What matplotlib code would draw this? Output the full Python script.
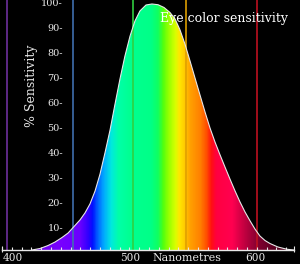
import numpy as np
import matplotlib
matplotlib.use("Agg")
import matplotlib.pyplot as plt
from matplotlib.colors import LinearSegmentedColormap
from matplotlib.patches import Polygon

# ---- data ----
wavelength_nm = [418.5, 425.0, 431.5, 437.1, 442.7, 447.6, 452.4, 457.3, 461.3, 465.3,
                 469.4, 473.4, 477.4, 481.5, 485.5, 489.5, 493.5, 497.6, 501.6, 505.6,
                 510.5, 515.3, 520.2, 525.0, 529.8, 533.9, 537.9, 541.9, 546.0, 550.0,
                 554.0, 558.1, 562.1, 566.1, 570.2, 574.2, 578.2, 582.3, 586.3, 590.3,
                 594.4, 598.4, 602.4, 606.5, 610.5, 616.9, 624.2, 629.8]
sensitivity_pct = [1.2, 1.8, 3.0, 4.4, 6.2, 8.0, 10.6, 13.3, 16.1, 19.7,
                   24.9, 31.7, 40.2, 49.4, 59.8, 69.9, 79.1, 87.1, 93.2, 97.2,
                   99.6, 100.0, 99.7, 98.6, 96.6, 94.0, 89.6, 83.9, 77.1, 70.3,
                   63.5, 56.6, 50.2, 44.6, 39.4, 34.5, 29.7, 24.9, 20.5, 16.5,
                   12.9, 9.6, 6.8, 5.0, 3.8, 2.4, 1.5, 1.2]

spectrum_nm = [417, 441, 457, 464, 467, 471, 476, 482, 488, 498, 514, 520, 524, 528,
               534, 537, 542, 546, 554, 559, 563, 567, 580, 590, 601, 615, 630]
spectrum_colors = ["#6a00e8", "#7800ff", "#6a00ff", "#2a00ff", "#0010ff", "#0060ff", "#00a8ff",
                   "#00e8e0", "#00ffa8", "#00ff90", "#00ff88", "#10ff60", "#50ff10", "#90ff00",
                   "#d8ff00", "#ffe800", "#ffc800", "#ffa000", "#ff8000", "#ff5000", "#ff1010",
                   "#ff0040", "#ff0050", "#c00040", "#800030", "#580020", "#480018"]

marker_nm = [398, 452, 500, 543, 600]
marker_colors = ["#7030a0", "#4070b0", "#30d040", "#e0a000", "#c01020"]

y_ticks = [10, 20, 30, 40, 50, 60, 70, 80, 90, 100]
x_labels = [400, 500, 600]
x_label_pos = [403.2, 497.6, 598.4]
baseline = 1.2
axis_range = [394.4, 629.8]
minor_tick_step = 7.9

# ---- figure ----
fig = plt.figure(figsize=(3.0, 2.64), dpi=100, facecolor="black")
ax = fig.add_axes([0, 0, 1, 1], facecolor="black")
ax.set_xlim(392.74, 634.68)
ax.set_ylim(-4.42, 101.6)
ax.axis("off")

serif = "DejaVu Serif"
tc = "#e8e8e8"

# gradient fill clipped to curve
cmap = LinearSegmentedColormap.from_list(
    "spec", [((w - spectrum_nm[0]) / (spectrum_nm[-1] - spectrum_nm[0]), c)
             for w, c in zip(spectrum_nm, spectrum_colors)])
grad = np.linspace(0, 1, 600).reshape(1, -1)
im = ax.imshow(grad, cmap=cmap, aspect="auto",
               extent=[spectrum_nm[0], spectrum_nm[-1], baseline, 100.5],
               interpolation="bilinear", zorder=1)
verts = [(wavelength_nm[0], baseline)] + list(zip(wavelength_nm, sensitivity_pct)) + \
        [(wavelength_nm[-1], baseline)]
poly = Polygon(verts, closed=True, facecolor="none", edgecolor="none",
               transform=ax.transData)
ax.add_patch(poly)
im.set_clip_path(poly)

# vertical marker lines
for w, c in zip(marker_nm, marker_colors):
    ax.vlines(w, baseline, 101.6, color=c, lw=1.3, zorder=3, alpha=0.9)

# curve outline
ax.plot(wavelength_nm, sensitivity_pct, color="#e8e8e8", lw=0.8, zorder=4)

# x axis
ax.plot(axis_range, [baseline, baseline], color=tc, lw=1.0, zorder=5)
ticks = np.arange(axis_range[0], axis_range[1] - 5, minor_tick_step)
ax.vlines(ticks, baseline, baseline + 1.3, color=tc, lw=0.8, zorder=5)
ax.vlines(axis_range, baseline - 0.8, baseline + 1.6, color=tc, lw=0.8, zorder=5)

for v, p in zip(x_labels, x_label_pos):
    ax.text(p, -2.0, str(v), color=tc, fontsize=7.6,
            family=serif, ha="center", va="center", zorder=6)
ax.text(543.5, -2.0, "Nanometres", color=tc, fontsize=7.9, family=serif,
        ha="center", va="center", zorder=6)

# y tick labels
for v in y_ticks:
    ax.text(443.5, v, f"{v}-", color=tc, fontsize=7.0, family=serif,
            ha="right", va="center", zorder=6)

ax.text(418.5, 67, "% Sensitivity", color=tc, fontsize=9, family=serif,
        rotation=90, ha="center", va="center", zorder=6)
ax.text(521.5, 94.3, "Eye color sensitivity", color="white", fontsize=9,
        family=serif, ha="left", va="center", zorder=6)

fig.savefig("out.png", dpi=100, facecolor="black")
